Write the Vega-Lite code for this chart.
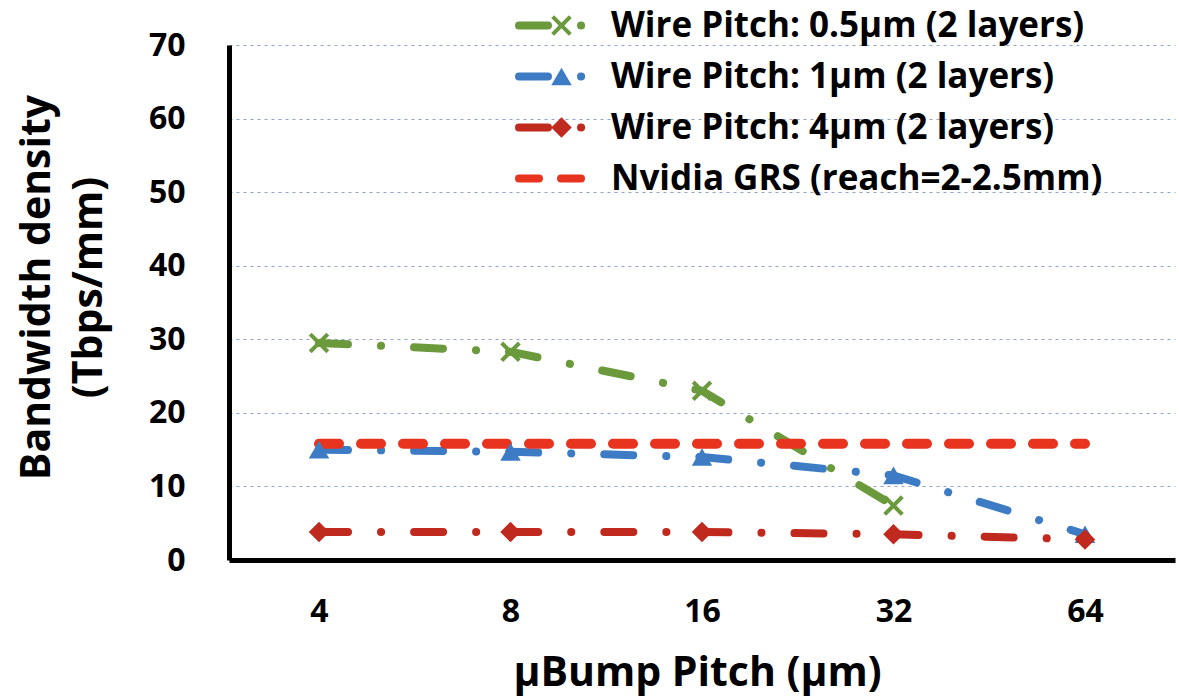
{
  "$schema": "https://vega.github.io/schema/vega-lite/v6.json",
  "autosize": {"type": "none"},
  "padding": {"left": 229, "top": 45, "right": 4, "bottom": 137},
  "width": 946,
  "height": 515,
  "background": "white",
  "config": {
    "view": {"stroke": null},
    "font": "Open Sans",
    "legend": {"padding": 0}
  },
  "data": {
    "values": [
      {"series": "Wire Pitch: 0.5µm (2 layers)", "pitch": "4", "value": 29.5},
      {"series": "Wire Pitch: 0.5µm (2 layers)", "pitch": "8", "value": 28.3},
      {"series": "Wire Pitch: 0.5µm (2 layers)", "pitch": "16", "value": 23.0},
      {"series": "Wire Pitch: 0.5µm (2 layers)", "pitch": "32", "value": 7.4},
      {"series": "Wire Pitch: 1µm (2 layers)", "pitch": "4", "value": 15.0},
      {"series": "Wire Pitch: 1µm (2 layers)", "pitch": "8", "value": 14.7},
      {"series": "Wire Pitch: 1µm (2 layers)", "pitch": "16", "value": 14.0},
      {"series": "Wire Pitch: 1µm (2 layers)", "pitch": "32", "value": 11.5},
      {"series": "Wire Pitch: 1µm (2 layers)", "pitch": "64", "value": 3.5},
      {"series": "Wire Pitch: 4µm (2 layers)", "pitch": "4", "value": 3.8},
      {"series": "Wire Pitch: 4µm (2 layers)", "pitch": "8", "value": 3.8},
      {"series": "Wire Pitch: 4µm (2 layers)", "pitch": "16", "value": 3.8},
      {"series": "Wire Pitch: 4µm (2 layers)", "pitch": "32", "value": 3.5},
      {"series": "Wire Pitch: 4µm (2 layers)", "pitch": "64", "value": 2.8},
      {"series": "Nvidia GRS (reach=2-2.5mm)", "pitch": "4", "value": 15.8},
      {"series": "Nvidia GRS (reach=2-2.5mm)", "pitch": "8", "value": 15.8},
      {"series": "Nvidia GRS (reach=2-2.5mm)", "pitch": "16", "value": 15.8},
      {"series": "Nvidia GRS (reach=2-2.5mm)", "pitch": "32", "value": 15.8},
      {"series": "Nvidia GRS (reach=2-2.5mm)", "pitch": "64", "value": 15.8}
    ]
  },
  "encoding": {
    "x": {
      "field": "pitch",
      "type": "ordinal",
      "sort": ["4", "8", "16", "32", "64"],
      "scale": {"type": "point", "domain": ["4", "8", "16", "32", "64"], "padding": 0.47},
      "axis": {
        "title": "µBump Pitch (µm)",
        "titleFont": "Open Sans",
        "titleFontSize": 41,
        "titleFontWeight": "bold",
        "titleColor": "black",
        "titleX": 468,
        "titleY": 125,
        "titleAlign": "center",
        "titleBaseline": "alphabetic",
        "labelFont": "Open Sans",
        "labelFontSize": 32,
        "labelFontWeight": "bold",
        "labelColor": "black",
        "labelAngle": 0,
        "labelPadding": 36,
        "ticks": false,
        "grid": false,
        "domain": true,
        "domainColor": "black",
        "domainWidth": 5
      }
    },
    "y": {
      "field": "value",
      "type": "quantitative",
      "scale": {"domain": [0, 70], "nice": false},
      "axis": {
        "title": ["Bandwidth density", "(Tbps/mm)"],
        "titleFont": "Open Sans",
        "titleFontSize": 41,
        "titleFontWeight": "bold",
        "titleColor": "black",
        "titleLineHeight": 52,
        "titleAngle": -90,
        "titleX": -180,
        "titleY": 242,
        "titleAlign": "center",
        "titleBaseline": "alphabetic",
        "values": [0, 10, 20, 30, 40, 50, 60, 70],
        "labelFont": "Open Sans",
        "labelFontSize": 32,
        "labelFontWeight": "bold",
        "labelColor": "black",
        "labelPadding": 44,
        "ticks": false,
        "grid": true,
        "gridColor": "#8fa3cc",
        "gridDash": [3, 4],
        "gridWidth": 1.2,
        "domain": true,
        "domainColor": "black",
        "domainWidth": 5
      }
    }
  },
  "layer": [
    {
      "transform": [{"filter": "datum.series !== 'Nvidia GRS (reach=2-2.5mm)'"}],
      "mark": {"type": "line", "strokeWidth": 8, "strokeCap": "round"},
      "encoding": {
        "color": {
          "field": "series",
          "type": "nominal",
          "scale": {
            "domain": ["Wire Pitch: 0.5µm (2 layers)", "Wire Pitch: 1µm (2 layers)", "Wire Pitch: 4µm (2 layers)", "Nvidia GRS (reach=2-2.5mm)"],
            "range": ["#6b9a3c", "#3d7cc4", "#c0291d", "#e8331f"]
          },
          "legend": {
            "title": null,
            "orient": "none",
            "legendX": 286,
            "legendY": -45,
            "symbolType": "stroke",
            "symbolSize": 5625,
            "symbolStrokeWidth": 8,
            "labelFont": "Open Sans",
            "labelFontSize": 35,
            "labelFontWeight": "bold",
            "labelColor": "black",
            "labelOffset": 13,
            "rowPadding": 0,
            "clipHeight": 51,
            "labelLimit": 700,
            "padding": 0,
            "encode": {"symbols": {"update": {"strokeCap": {"value": "round"}}}}
          }
        },
        "strokeDash": {
          "field": "series",
          "type": "nominal",
          "scale": {
            "domain": ["Wire Pitch: 0.5µm (2 layers)", "Wire Pitch: 1µm (2 layers)", "Wire Pitch: 4µm (2 layers)", "Nvidia GRS (reach=2-2.5mm)"],
            "range": [[29, 33, 0.1, 33], [29, 33, 0.1, 33], [29, 33, 0.1, 33], [20, 22]]
          },
          "legend": {
            "title": null,
            "orient": "none",
            "legendX": 286,
            "legendY": -45,
            "symbolType": "stroke",
            "symbolSize": 5625,
            "symbolStrokeWidth": 8,
            "labelFont": "Open Sans",
            "labelFontSize": 35,
            "labelFontWeight": "bold",
            "labelColor": "black",
            "labelOffset": 13,
            "rowPadding": 0,
            "clipHeight": 51,
            "labelLimit": 700,
            "padding": 0,
            "encode": {"symbols": {"update": {"strokeCap": {"value": "round"}}}}
          }
        }
      }
    },
    {
      "transform": [{"filter": "datum.series === 'Nvidia GRS (reach=2-2.5mm)'"}],
      "mark": {"type": "line", "strokeWidth": 10, "strokeCap": "round"},
      "encoding": {
        "color": {"field": "series", "type": "nominal"},
        "strokeDash": {"field": "series", "type": "nominal"}
      }
    },
    {
      "transform": [{"filter": "datum.series !== 'Nvidia GRS (reach=2-2.5mm)'"}],
      "mark": {"type": "point", "filled": true, "opacity": 1, "size": 420},
      "encoding": {
        "fill": {
          "field": "series",
          "type": "nominal",
          "scale": {
            "domain": ["Wire Pitch: 0.5µm (2 layers)", "Wire Pitch: 1µm (2 layers)", "Wire Pitch: 4µm (2 layers)"],
            "range": ["#6b9a3c", "#3d7cc4", "#c0291d"]
          },
          "legend": null
        },
        "shape": {
          "field": "series",
          "type": "nominal",
          "scale": {
            "domain": ["Wire Pitch: 0.5µm (2 layers)", "Wire Pitch: 1µm (2 layers)", "Wire Pitch: 4µm (2 layers)"],
            "range": ["M-1,-0.72L-0.72,-1L0,-0.28L0.72,-1L1,-0.72L0.28,0L1,0.72L0.72,1L0,0.28L-0.72,1L-1,0.72L-0.28,0Z", "triangle-up", "diamond"]
          },
          "legend": {
            "title": null,
            "orient": "none",
            "legendX": 315,
            "legendY": -45,
            "symbolSize": 420,
            "symbolStrokeWidth": 0,
            "labelExpr": "''",
            "labelFontSize": 35,
            "rowPadding": 0,
            "clipHeight": 51,
            "padding": 0,
            "encode": {"symbols": {"update": {"fill": {"scale": "fill", "field": "value"}, "fillOpacity": {"value": 1}, "opacity": {"value": 1}}}}
          }
        }
      }
    }
  ]
}
